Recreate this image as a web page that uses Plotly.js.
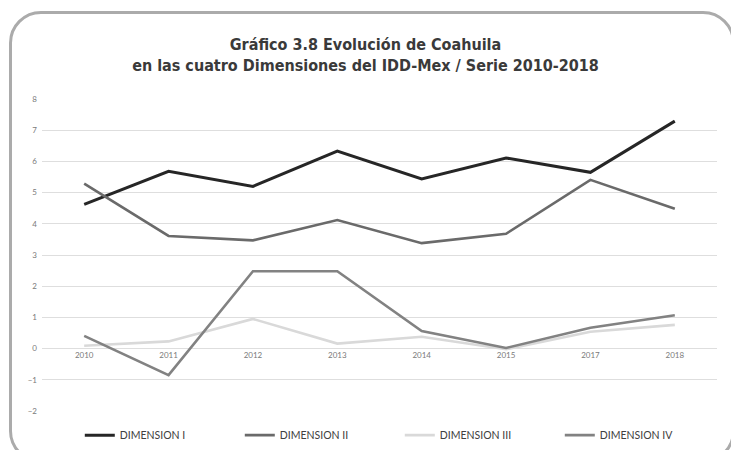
<!DOCTYPE html>
<html>
<head>
<meta charset="utf-8">
<script src="https://cdn.plot.ly/plotly-3.0.1.min.js"></script>
<style>
  html, body { margin: 0; padding: 0; width: 731px; height: 450px; overflow: hidden; background: #fff; }
  #frame { position: absolute; left: 9px; top: 11px; width: 726px; height: 452px; border: 3px solid #ababab; border-radius: 32px; box-sizing: border-box; pointer-events: none; z-index: 2; }
  #chart { position: absolute; left: 0; top: 0; width: 731px; height: 450px; }
</style>
</head>
<body>
<div id="chart"></div>
<div id="frame"></div>
<script>
const years = ["2010", "2011", "2012", "2013", "2014", "2015", "2017", "2018"];
const dimensionI   = [4.62, 5.68, 5.20, 6.33, 5.44, 6.11, 5.65, 7.29];
const dimensionII  = [5.29, 3.61, 3.47, 4.12, 3.38, 3.68, 5.41, 4.48];
const dimensionIII = [0.09, 0.23, 0.95, 0.16, 0.38, -0.02, 0.54, 0.76];
const dimensionIV  = [0.41, -0.85, 2.48, 2.48, 0.56, 0.02, 0.67, 1.07];
const seriesNames = ["DIMENSION I", "DIMENSION II", "DIMENSION III", "DIMENSION IV"];

const styles = [
  { color: "#262626", width: 3 },
  { color: "#6a6a6a", width: 2.6 },
  { color: "#d9d9d9", width: 2.6 },
  { color: "#828282", width: 2.6 }
];
const values = [dimensionI, dimensionII, dimensionIII, dimensionIV];

const traces = values.map((v, i) => ({
  type: "scatter",
  mode: "lines",
  x: years,
  y: v,
  name: seriesNames[i],
  line: { color: styles[i].color, width: styles[i].width },
  hoverinfo: "skip"
}));

const layout = {
  width: 731,
  height: 450,
  paper_bgcolor: "#ffffff",
  plot_bgcolor: "#ffffff",
  margin: { l: 42, r: 14, t: 99, b: 39 },
  title: {
    text: "<b>Gráfico 3.8 Evolución de Coahuila<br>en las cuatro Dimensiones del IDD-Mex / Serie 2010-2018</b>",
    font: { family: "DejaVu Sans Condensed, DejaVu Sans", size: 16, color: "#3a3a3a" },
    x: 0.5, xanchor: "center",
    yref: "container", y: 0.888, yanchor: "top"
  },
  xaxis: {
    type: "category",
    categoryorder: "array",
    categoryarray: years,
    range: [-0.5, 7.5],
    anchor: "free",
    position: 0.2,
    showgrid: false,
    showline: false,
    zeroline: false,
    ticks: "",
    tickfont: { family: "Lato, Open Sans", size: 8, color: "#7a7a7a" },
    fixedrange: true
  },
  yaxis: {
    range: [-2, 8],
    dtick: 1,
    tick0: 0,
    showgrid: true,
    gridcolor: "#dedede",
    gridwidth: 1,
    zeroline: false,
    showline: false,
    ticks: "",
    ticklabelstandoff: 4,
    tickfont: { family: "Lato, Open Sans", size: 8, color: "#7a7a7a" },
    fixedrange: true
  },
  showlegend: true,
  legend: {
    orientation: "h",
    x: 0.056, xanchor: "left",
    yref: "container", y: 0.033, yanchor: "middle",
    entrywidth: 115,
    entrywidthmode: "pixels",
    font: { family: "Lato, Open Sans", size: 10.5, color: "#404040" },
    bgcolor: "rgba(0,0,0,0)"
  }
};

Plotly.newPlot("chart", traces, layout, { displayModeBar: false, staticPlot: true });
</script>
</body>
</html>
